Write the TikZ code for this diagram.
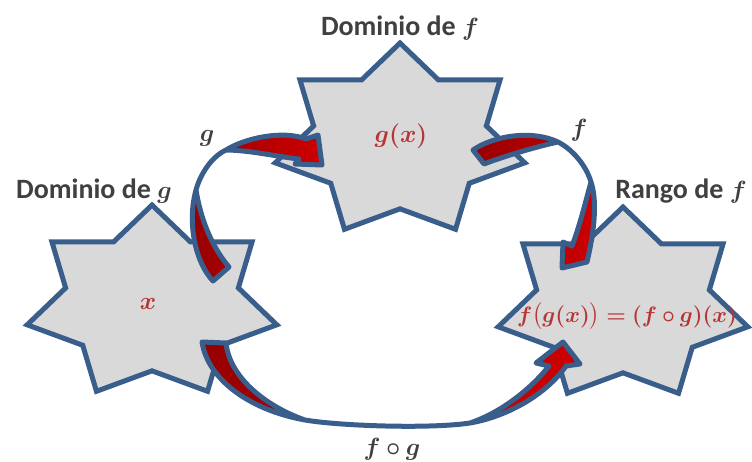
\documentclass[tikz,border=0pt]{standalone}
\usepackage{fontspec}
\setmainfont{Carlito}
\usepackage{amsmath}
\usepackage{bm}
\definecolor{starblue}{RGB}{58,94,140}
\definecolor{stargray}{RGB}{217,217,217}
\definecolor{titlegray}{RGB}{64,64,64}
\definecolor{mathred}{RGB}{184,52,52}
\definecolor{arrowdark}{RGB}{150,0,0}
\definecolor{arrowred}{RGB}{205,0,0}
\newcommand\septstar[2]{%
  \path[starshape] ({#1},{#2-98}) \foreach \k in {1,...,13}{ -- ({#1+128*(1-0.308*mod(\k,2))*cos(90+\k*360/14)},{#2-98*(1-0.308*mod(\k,2))*sin(90+\k*360/14)}) } -- cycle;}
\begin{document}
\begin{tikzpicture}[x=1pt,y=-1pt,
  starshape/.style={draw=starblue, fill=stargray, line width=5pt, line join=miter},
  arrowshape/.style={draw=starblue, line width=5pt, line join=round, left color=arrowdark, right color=arrowred},
  title/.style={text=titlegray, font=\fontsize{28}{33}\selectfont\bfseries, anchor=base, inner sep=0pt},
  lbl/.style={text=titlegray, font=\fontsize{28}{33}\selectfont, anchor=base, inner sep=0pt},
  mtext/.style={text=mathred, font=\fontsize{24}{29}\selectfont, anchor=base, inner sep=0pt}]
\useasboundingbox (0,0) rectangle (752,461);
% stars
\septstar{152}{303}
\septstar{400}{141}
\septstar{623}{305}
% arrow g
\path[arrowshape] (213,281) .. controls (195,262) and (187,222) .. (196,190)
  .. controls (200,175) and (211,157) .. (226,150)
  .. controls (245,138) and (283,130) .. (306,139)
  -- (318,135) -- (322,165) -- (295,164) -- (299,159)
  .. controls (280,157) and (248,150) .. (226,150)
  .. controls (211,157) and (200,175) .. (196,190)
  .. controls (200,215) and (210,245) .. (229,267) -- cycle;
% arrow f
\path[arrowshape] (473,150) .. controls (495,135) and (533,130) .. (558,142)
  .. controls (572,149) and (586,165) .. (591,182)
  .. controls (597,200) and (595,228) .. (587,262)
  -- (562,268) -- (563,242) -- (572,246)
  .. controls (580,225) and (586,200) .. (591,182)
  .. controls (586,165) and (572,149) .. (558,142)
  .. controls (535,147) and (505,156) .. (484,164) -- cycle;
% arrow f o g
\path[arrowshape] (202,342) .. controls (208,380) and (250,410) .. (305,420)
  .. controls (340,426) and (430,429) .. (470,423)
  .. controls (505,417) and (545,396) .. (566,366)
  -- (580,364) -- (563,342) -- (536,363) -- (549,366)
  .. controls (530,390) and (500,413) .. (470,423)
  .. controls (430,429) and (340,426) .. (305,420)
  .. controls (270,408) and (230,380) .. (226,343) -- cycle;
% titles
\node[title] (domg) at (94,198) {Dominio de $\bm{g}$};
\node[title] (domf) at (400,35) {Dominio de $\bm{f}$};
\node[title] (ranf) at (681,198) {Rango de $\bm{f}$};
% arrow labels
\node[lbl] (lg) at (207,141) {$\bm{g}$};
\node[lbl] (lf) at (579,136) {$\bm{f}$};
\node[lbl] (lfg) at (392,455) {$\bm{f\circ g}$};
% star contents
\node[mtext] (x) at (148,309) {$\bm{x}$};
\node[mtext] (gx) at (401,142) {$\bm{g(x)}$};
\node[mtext] (fgx) at (627,322) {\resizebox{220pt}{!}{$\bm{f\bigl(g(x)\bigr)=(f\circ g)(x)}$}};
\end{tikzpicture}
\end{document}
